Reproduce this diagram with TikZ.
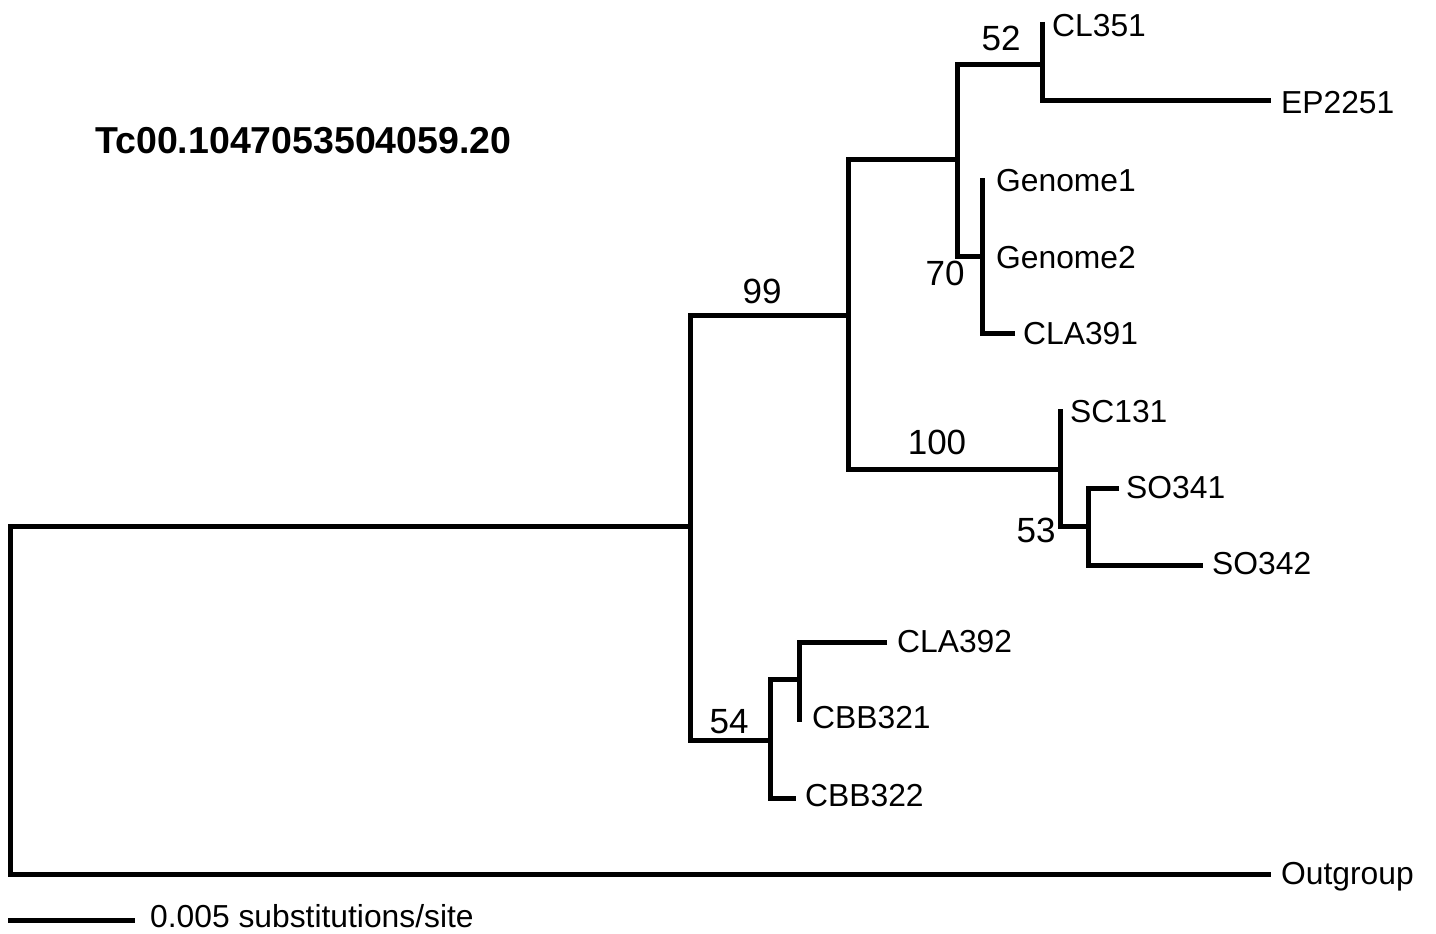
\documentclass[tikz,border=0pt]{standalone}
\usepackage{fontspec}
\setmainfont{Liberation Sans}
\begin{document}
\begin{tikzpicture}[x=1pt,y=-1pt,
  branch/.style={line width=5pt, line join=miter, line cap=butt},
  leaflab/.style={anchor=base west, inner sep=0pt, font=\fontsize{31.8}{37}\selectfont},
  bootlab/.style={anchor=base, inner sep=0pt, font=\fontsize{35}{40}\selectfont},
  titlelab/.style={anchor=base west, inner sep=0pt, font=\fontsize{37.5}{42}\selectfont\bfseries}]
\useasboundingbox (0,0) rectangle (1436,934);
% internal nodes (join points)
\coordinate (Rt) at (10,700);
\coordinate (A) at (690,526);
\coordinate (B) at (848,315);
\coordinate (C) at (957,159);
\coordinate (D) at (1042,65);
\coordinate (E) at (982,256);
\coordinate (S) at (1060,469);
\coordinate (F) at (1088,526);
\coordinate (G) at (770,740);
\coordinate (H) at (799,679);
% leaf tips
\coordinate (tCL351) at (1042,22);
\coordinate (tEP) at (1271,101);
\coordinate (tG1) at (982,178);
\coordinate (tG2) at (982,256);
\coordinate (tCLA391) at (1015,333);
\coordinate (tSC131) at (1060,409);
\coordinate (tSO341) at (1119,488);
\coordinate (tSO342) at (1203,565);
\coordinate (tCLA392) at (887,642);
\coordinate (tCBB321) at (799,722);
\coordinate (tCBB322) at (796,798);
\coordinate (tOut) at (1271,874);
\coordinate (sb1) at (8,920);
\coordinate (sb2) at (135,920);
% branches
\draw[branch] (A) -- (Rt |- A) -- (Rt |- tOut) -- (tOut);
\draw[branch] (B) -- (A |- B) -- (A |- G) -- (G);
\draw[branch] (C) -- (B |- C) -- (B |- S) -- (S);
\draw[branch] (D) -- (C |- D) -- (C |- E) -- (E);
\draw[branch] (tCL351) -- (D |- tEP) -- (tEP);
\draw[branch] (tG1) -- (E |- tCLA391) -- (tCLA391);
\draw[branch] (tSC131) -- (S |- F) -- (F);
\draw[branch] (tSO341) -- (F |- tSO341) -- (F |- tSO342) -- (tSO342);
\draw[branch] (H) -- (G |- H) -- (G |- tCBB322) -- (tCBB322);
\draw[branch] (tCLA392) -- (H |- tCLA392) -- (tCBB321);
\draw[branch] (sb1) -- (sb2);
% leaf labels
\node[leaflab] (lCL351) at (1052,36.5) {CL351};
\node[leaflab] (lEP) at (1281,113.5) {EP2251};
\node[leaflab] (lG1) at (996,191.5) {Genome1};
\node[leaflab] (lG2) at (996,268.5) {Genome2};
\node[leaflab] (lCLA391) at (1023,344.5) {CLA391};
\node[leaflab] (lSC131) at (1070,422.5) {SC131};
\node[leaflab] (lSO341) at (1126,498.5) {SO341};
\node[leaflab] (lSO342) at (1212,574.5) {SO342};
\node[leaflab] (lCLA392) at (897,652.5) {CLA392};
\node[leaflab] (lCBB321) at (812,728.5) {CBB321};
\node[leaflab] (lCBB322) at (805,806.5) {CBB322};
\node[leaflab] (lOut) at (1281,884.5) {Outgroup};
\node[leaflab] (lscale) at (150,927.5) {0.005 substitutions/site};
% bootstrap labels
\node[bootlab] (b52) at (1001,50.5) {52};
\node[bootlab] (b70) at (945,285.5) {70};
\node[bootlab] (b99) at (762,303.5) {99};
\node[bootlab] (b100) at (937,454.5) {100};
\node[bootlab] (b53) at (1036,542.5) {53};
\node[bootlab] (b54) at (729,733.5) {54};
% title
\node[titlelab] (title) at (95,153) {Tc00.1047053504059.20};
\end{tikzpicture}
\end{document}
